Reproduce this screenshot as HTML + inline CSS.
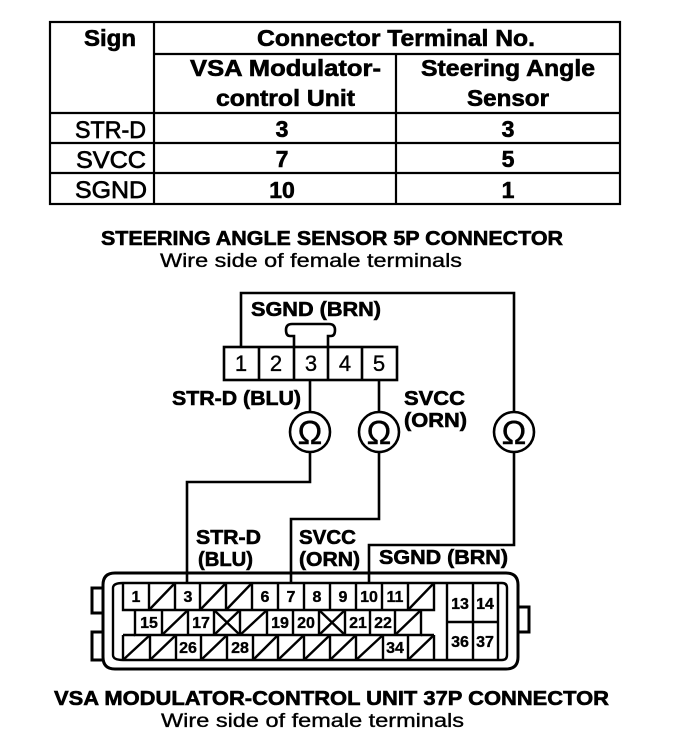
<!DOCTYPE html>
<html>
<head>
<meta charset="utf-8">
<style>
html,body{margin:0;padding:0;background:#fff;}
svg{display:block;}
text{font-family:"Liberation Sans",sans-serif;fill:#000;stroke:#000;stroke-width:.6;}
.h{font-weight:bold;font-size:23px;}
.m{font-weight:bold;font-size:23px;text-anchor:middle;}
.c{font-size:24px;stroke-width:.7;}
.l{font-weight:bold;font-size:20px;}
.s{font-size:19px;stroke-width:.35;}
.n{font-weight:bold;font-size:16px;text-anchor:middle;stroke-width:.35;}
.p{font-size:22px;text-anchor:middle;stroke-width:.35;}
.o{font-size:33px;text-anchor:middle;stroke-width:.4;}
</style>
</head>
<body>
<svg width="688" height="748" viewBox="0 0 688 748" xmlns="http://www.w3.org/2000/svg">
<rect width="688" height="748" fill="#fff"/>

<!-- Table -->
<g fill="none" stroke="#000" stroke-width="2.2">
<rect x="50" y="22" width="570" height="182"/>
<path d="M50 113H620M50 143H620M50 173H620M154 22V204M155 54H620M396 54V204"/>
</g>
<text class="h" x="84" y="46" textLength="52" lengthAdjust="spacingAndGlyphs">Sign</text>
<text class="h" x="257" y="46" textLength="278" lengthAdjust="spacingAndGlyphs">Connector Terminal No.</text>
<text class="h" x="190" y="76" textLength="191" lengthAdjust="spacingAndGlyphs">VSA Modulator-</text>
<text class="h" x="216" y="106" textLength="139" lengthAdjust="spacingAndGlyphs">control Unit</text>
<text class="h" x="421" y="76" textLength="174" lengthAdjust="spacingAndGlyphs">Steering Angle</text>
<text class="h" x="467" y="106" textLength="82" lengthAdjust="spacingAndGlyphs">Sensor</text>
<text class="c" x="75" y="138" textLength="71" lengthAdjust="spacingAndGlyphs">STR-D</text>
<text class="c" x="76" y="168" textLength="70" lengthAdjust="spacingAndGlyphs">SVCC</text>
<text class="c" x="75" y="198" textLength="72" lengthAdjust="spacingAndGlyphs">SGND</text>
<text class="m" x="282" y="137">3</text>
<text class="m" x="282" y="167">7</text>
<text class="m" x="282" y="198">10</text>
<text class="m" x="508" y="137">3</text>
<text class="m" x="508" y="167">5</text>
<text class="m" x="508" y="198">1</text>

<text class="l" x="101" y="245" textLength="462" lengthAdjust="spacingAndGlyphs">STEERING ANGLE SENSOR 5P CONNECTOR</text>
<text class="s" x="160" y="267" textLength="302" lengthAdjust="spacingAndGlyphs">Wire side of female terminals</text>

<!-- 5P connector -->
<g fill="none" stroke="#000" stroke-width="2.6">
<path d="M241 347V293H514V411"/>
<rect x="224" y="347" width="173" height="33"/>
<path d="M259 347V380M294 347V380M328 347V380M362 347V380"/>
<path d="M294 347V336H290Q286 336 286 330Q286 324 292 324H329Q335 324 335 330Q335 336 331 336H328V347"/>
<path d="M310 380V411M379 380V411M310 452V482H187V584M379 452V519H291V584M514 452V545H369V584"/>
<circle cx="310" cy="432" r="20"/>
<circle cx="379" cy="432" r="20"/>
<circle cx="514" cy="432" r="20"/>
</g>
<text class="p" x="241" y="371">1</text>
<text class="p" x="276" y="371">2</text>
<text class="p" x="311" y="371">3</text>
<text class="p" x="345" y="371">4</text>
<text class="p" x="379" y="371">5</text>
<text class="o" x="310" y="444">Ω</text>
<text class="o" x="379" y="444">Ω</text>
<text class="o" x="514" y="444">Ω</text>

<text class="l" x="251" y="316" textLength="130" lengthAdjust="spacingAndGlyphs">SGND (BRN)</text>
<text class="l" x="172" y="405" textLength="129" lengthAdjust="spacingAndGlyphs">STR-D (BLU)</text>
<text class="l" x="404" y="405" textLength="61" lengthAdjust="spacingAndGlyphs">SVCC</text>
<text class="l" x="404" y="427" textLength="63" lengthAdjust="spacingAndGlyphs">(ORN)</text>
<text class="l" x="196" y="544" textLength="65" lengthAdjust="spacingAndGlyphs">STR-D</text>
<text class="l" x="198" y="566" textLength="55" lengthAdjust="spacingAndGlyphs">(BLU)</text>
<text class="l" x="299" y="544" textLength="57" lengthAdjust="spacingAndGlyphs">SVCC</text>
<text class="l" x="299" y="566" textLength="61" lengthAdjust="spacingAndGlyphs">(ORN)</text>
<text class="l" x="379" y="564" textLength="129" lengthAdjust="spacingAndGlyphs">SGND (BRN)</text>

<!-- 37P connector -->
<g fill="none" stroke="#000" stroke-width="3">
<path d="M103 588H92V613H103M103 632H92V660H103"/>
<path d="M518 607H529V632H518"/>
<path d="M115 573H506Q518 573 518 585V657Q518 669 506 669H115Q103 669 103 657V585Q103 573 115 573Z"/>
</g>
<g fill="none" stroke="#000" stroke-width="2.4">
<path d="M123 583H502Q507 583 507 588V655Q507 660 502 660H123Q113 660 113 655V588Q113 583 123 583Z"/>
<!-- row 1 -->
<path d="M123 583V610H434V583M149 583V610M175 583V610M200 583V610M226 583V610M252 583V610M278 583V610M304 583V610M330 583V610M356 583V610M382 583V610M408 583V610"/>
<path d="M149 610L175 583M200 610L226 583M226 610L252 583M408 610L434 583"/>
<!-- row 2 -->
<path d="M135 610V635H421V610M162 610V635M188 610V635M214 610V635M240 610V635M267 610V635M293 610V635M319 610V635M345 610V635M370 610V635M395 610V635"/>
<path d="M162 635L188 610M240 635L267 610M395 635L421 610M214 610L240 635M214 635L240 610M319 610L345 635M319 635L345 610"/>
<!-- row 3 -->
<path d="M123 635V660M434 635V660M123 635H135M150 635V660M176 635V660M201 635V660M227 635V660M253 635V660M278 635V660M304 635V660M330 635V660M356 635V660M383 635V660M408 635V660M421 635H434"/>
<path d="M123 660L150 635M150 660L176 635M201 660L227 635M253 660L278 635M278 660L304 635M304 660L330 635M330 660L356 635M356 660L383 635M408 660L434 635"/>
<!-- right block -->
<path d="M447 583V660M473 583V660M498 583V660M447 622H498"/>
</g>
<text class="n" x="136" y="602">1</text>
<text class="n" x="188" y="602">3</text>
<text class="n" x="265" y="602">6</text>
<text class="n" x="291" y="602">7</text>
<text class="n" x="317" y="602">8</text>
<text class="n" x="343" y="602">9</text>
<text class="n" x="369" y="602">10</text>
<text class="n" x="395" y="602">11</text>
<text class="n" x="149" y="628">15</text>
<text class="n" x="201" y="628">17</text>
<text class="n" x="280" y="628">19</text>
<text class="n" x="306" y="628">20</text>
<text class="n" x="358" y="628">21</text>
<text class="n" x="383" y="628">22</text>
<text class="n" x="188" y="653">26</text>
<text class="n" x="240" y="653">28</text>
<text class="n" x="395" y="653">34</text>
<text class="n" x="460" y="609">13</text>
<text class="n" x="485" y="609">14</text>
<text class="n" x="460" y="647">36</text>
<text class="n" x="485" y="647">37</text>

<text class="l" x="54" y="705" textLength="555" lengthAdjust="spacingAndGlyphs">VSA MODULATOR-CONTROL UNIT 37P CONNECTOR</text>
<text class="s" x="161" y="727" textLength="303" lengthAdjust="spacingAndGlyphs">Wire side of female terminals</text>
</svg>
</body>
</html>
